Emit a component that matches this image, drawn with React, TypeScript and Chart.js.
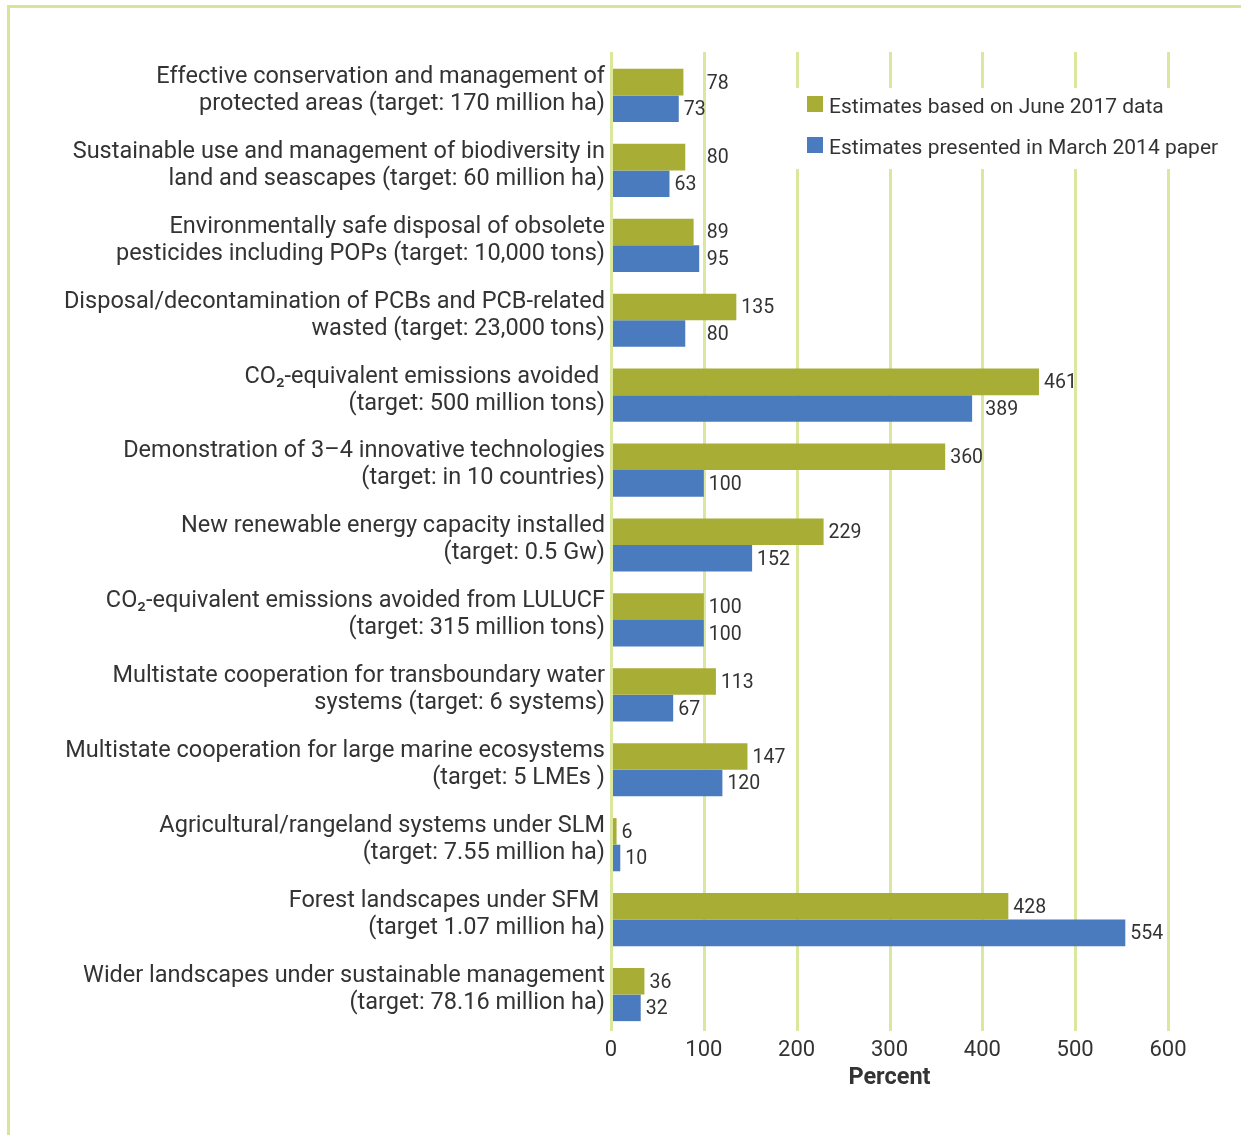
import React, { useEffect, useRef } from 'react';
import { Chart, registerables } from 'chart.js';

Chart.register(...registerables);

const categories: string[][] = [
  ['Effective conservation and management of', 'protected areas (target: 170 million ha)'],
  ['Sustainable use and management of biodiversity in', 'land and seascapes (target: 60 million ha)'],
  ['Environmentally safe disposal of obsolete', 'pesticides including POPs (target: 10,000 tons)'],
  ['Disposal/decontamination of PCBs and PCB-related', 'wasted (target: 23,000 tons)'],
  ['CO\u2082-equivalent emissions avoided ', '(target: 500 million tons)'],
  ['Demonstration of 3\u20134 innovative technologies', '(target: in 10 countries)'],
  ['New renewable energy capacity installed', '(target: 0.5 Gw)'],
  ['CO\u2082-equivalent emissions avoided from LULUCF', '(target: 315 million tons)'],
  ['Multistate cooperation for transboundary water', 'systems (target: 6 systems)'],
  ['Multistate cooperation for large marine ecosystems', '(target: 5 LMEs )'],
  ['Agricultural/rangeland systems under SLM', '(target: 7.55 million ha)'],
  ['Forest landscapes under SFM ', '(target 1.07 million ha)'],
  ['Wider landscapes under sustainable management', '(target: 78.16 million ha)'],
];

const june2017: number[] = [78, 80, 89, 135, 461, 360, 229, 100, 113, 147, 6, 428, 36];
const march2014: number[] = [73, 63, 95, 80, 389, 100, 152, 100, 67, 120, 10, 554, 32];

const seriesNames: string[] = ['Estimates based on June 2017 data', 'Estimates presented in March 2014 paper'];
const xTicks: number[] = [0, 100, 200, 300, 400, 500, 600];
const axisTitle = 'Percent';

const GREEN = '#A8AD36';
const BLUE = '#4A7BBF';
const GRID = '#D9E89C';
const TEXT = '#333333';
const FONT = 'Roboto';

const customPlugin = {
  id: 'customDraw',
  beforeDatasetsDraw(chart: any) {
    const { ctx, chartArea, scales } = chart;
    const x = scales.x;
    ctx.save();
    ctx.strokeStyle = GRID;
    ctx.lineWidth = 3;
    for (const t of xTicks) {
      if (t === 0) continue;
      const px = Math.round(x.getPixelForValue(t)) + 0.5;
      ctx.beginPath();
      ctx.moveTo(px, chartArea.top - 6);
      ctx.lineTo(px, chartArea.bottom - 1);
      ctx.stroke();
    }
    // legend
    const lx = 785, ly = 88;
    ctx.fillStyle = '#ffffff';
    ctx.fillRect(lx, ly, 452, 81);
    ctx.font = `21px ${FONT}`;
    ctx.textBaseline = 'middle';
    ctx.textAlign = 'left';
    chart.data.datasets.forEach((ds: any, i: number) => {
      const sy = 96 + i * 41;
      ctx.fillStyle = ds.backgroundColor;
      ctx.fillRect(807, sy, 16, 16);
      ctx.fillStyle = TEXT;
      ctx.fillText(ds.label, 829, sy + 12);
    });
    ctx.restore();
  },
  afterDatasetsDraw(chart: any) {
    const { ctx, chartArea, scales } = chart;
    const x = scales.x;
    ctx.save();
    // zero line
    const zx = Math.round(x.getPixelForValue(0)) + 0.5;
    ctx.strokeStyle = GRID;
    ctx.lineWidth = 3;
    ctx.beginPath();
    ctx.moveTo(zx, chartArea.top - 6);
    ctx.lineTo(zx, chartArea.bottom - 1);
    ctx.stroke();
    // value labels
    ctx.font = `19.5px ${FONT}`;
    ctx.fillStyle = TEXT;
    ctx.textBaseline = 'middle';
    ctx.textAlign = 'left';
    chart.data.datasets.forEach((ds: any, di: number) => {
      const meta = chart.getDatasetMeta(di);
      meta.data.forEach((el: any, i: number) => {
        const txt = String(ds.data[i]);
        const w = ctx.measureText(txt).width;
        let x0 = el.x + 5;
        for (const t of xTicks) {
          if (t === 0) continue;
          const gx = x.getPixelForValue(t);
          if (gx >= x0 - 2 && gx <= x0 + w - 3) x0 = gx + 3;
        }
        ctx.fillText(txt, x0, el.y + 1.5);
      });
    });
    ctx.restore();
  },
};

export default function App() {
  const canvasRef = useRef<HTMLCanvasElement | null>(null);

  useEffect(() => {
    const canvas = canvasRef.current;
    if (!canvas) return;
    const chart = new Chart(canvas, {
      type: 'bar',
      data: {
        labels: categories,
        datasets: [
          {
            label: seriesNames[0],
            data: june2017,
            backgroundColor: GREEN,
            categoryPercentage: 0.71,
            barPercentage: 1,
          },
          {
            label: seriesNames[1],
            data: march2014,
            backgroundColor: BLUE,
            categoryPercentage: 0.71,
            barPercentage: 1,
          },
        ],
      },
      options: {
        indexAxis: 'y',
        responsive: false,
        animation: false,
        devicePixelRatio: 1,
        layout: { padding: { left: 0, right: 73, top: 58, bottom: 0 } },
        plugins: {
          legend: { display: false },
          tooltip: { enabled: false },
        },
        scales: {
          x: {
            min: 0,
            max: 600,
            ticks: {
              stepSize: 100,
              color: TEXT,
              font: { family: FONT, size: 22 },
              padding: 5,
            },
            grid: { display: false, drawTicks: false },
            border: { display: false },
            title: {
              display: true,
              text: axisTitle,
              color: TEXT,
              font: { family: FONT, size: 23.5, weight: 'bold' },
              padding: { top: 0, bottom: 43 },
            },
            afterFit: (s: any) => {
              s.height = 103;
            },
          },
          y: {
            ticks: {
              color: TEXT,
              font: { family: FONT, size: 23.5, lineHeight: 1.15 },
              padding: 6,
              labelOffset: -5,
              autoSkip: false,
            },
            grid: { display: false, drawTicks: false },
            border: { display: false },
            afterFit: (s: any) => {
              s.width = 611;
            },
          },
        },
      },
      plugins: [customPlugin],
    } as any);
    return () => chart.destroy();
  }, []);

  return (
    <div style={{ position: 'absolute', left: 0, top: 0, width: 1241, height: 1135, background: '#ffffff' }}>
      <div
        style={{
          position: 'absolute',
          left: 7,
          top: 5,
          width: 1234,
          height: 1130,
          boxSizing: 'border-box',
          borderLeft: '3px solid #D5E59C',
          borderTop: '3px solid #D5E59C',
        }}
      />
      <canvas
        ref={canvasRef}
        width={1241}
        height={1135}
        style={{ position: 'absolute', left: 0, top: 0, width: 1241, height: 1135 }}
      />
    </div>
  );
}
